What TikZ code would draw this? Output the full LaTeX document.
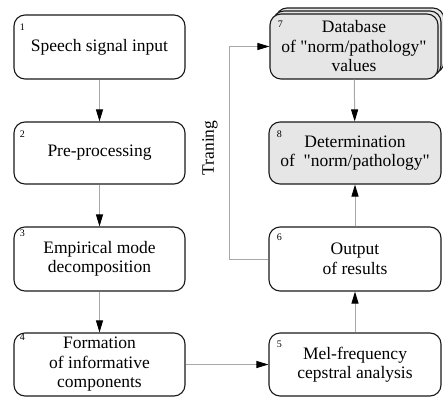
\documentclass[tikz,border=0pt]{standalone}
\usepackage{fontspec}
\setmainfont{Liberation Serif}
\newfontfamily\boxfont{Liberation Serif}
\usetikzlibrary{arrows.meta,positioning,calc}
\definecolor{boxfill}{HTML}{E6E6E6}
\definecolor{linegray}{HTML}{A8A8A8}
\newcommand{\dq}{\textquotedbl}
\tikzset{
  blk/.style={draw=black!90, line width=1.1pt, rounded corners=11pt, fill=white,
    minimum width=171pt, minimum height=64pt, inner sep=0pt, align=center,
    font=\boxfont\fontsize{17.5}{19.5}\selectfont},
  grayblk/.style={blk, fill=boxfill},
  num/.style={font=\boxfont\fontsize{10}{10}\selectfont, inner sep=0pt},
  conn/.style={draw=linegray, line width=1pt, -{Triangle[length=12pt,width=7pt,fill=black,color=black]}},
}
\begin{document}
\begin{tikzpicture}[x=1pt,y=-1pt]
\useasboundingbox (0,0) rectangle (443,398);
% left column
\node[blk] (b1) at (99.5,47) {Speech signal input};
\node[blk, minimum height=62pt] (b2) at (99.5,153) {Pre-processing};
\node[blk] (b3) at (99.5,259) {Empirical mode\\decomposition};
\node[blk, minimum height=63pt] (b4) at (99.5,364.5) {Formation\\of informative\\components};
% right column
\node[blk, minimum width=172pt, minimum height=63pt] (b5) at (355,364.5) {Mel-frequency\\cepstral analysis};
\node[blk, minimum width=172pt] (b6) at (355,259) {Output\\of results};
\node[grayblk, minimum width=172pt, minimum height=62pt] (b8) at (355,153) {Determination\\of\ \ \dq norm/pathology\dq};
\node[grayblk, minimum width=168pt, minimum height=65pt] (b7b) at (360,40.5) {};
\node[grayblk, minimum width=168pt, minimum height=65pt] (b7a) at (357,43.5) {};
\node[grayblk, minimum width=168pt, minimum height=65pt] (b7) at (354,46.5) {Database\\of \dq norm/pathology\dq\\values};
% numbers
\node[num] (n1) at ($(b1.north west)+(9,13)$) {1};
\node[num] (n2) at ($(b2.north west)+(9,13)$) {2};
\node[num] (n3) at ($(b3.north west)+(9,7)$) {3};
\node[num] (n4) at ($(b4.north west)+(9,5)$) {4};
\node[num] (n5) at ($(b5.north west)+(11,12)$) {5};
\node[num] (n6) at ($(b6.north west)+(11,11)$) {6};
\node[num] (n7) at ($(b7.north west)+(11,11)$) {7};
\node[num] (n8) at ($(b8.north west)+(11,13)$) {8};
% connectors
\draw[conn] (b1) -- (b2);
\draw[conn] (b2) -- (b3);
\draw[conn] (b3) -- (b4);
\draw[conn] (b4) -- (b5);
\draw[conn] (b5) -- (b6);
\draw[conn] (b6) -- (b8);
\draw[conn] (b7) -- (b8);
\coordinate (tr) at (229,46.5);
\draw[conn] (b6.west) -| (tr) -- (b7.west);
\node[rotate=90, font=\boxfont\fontsize{17.5}{19}\selectfont, inner sep=0pt] (lbl) at (210,148) {Traning};
\end{tikzpicture}
\end{document}
